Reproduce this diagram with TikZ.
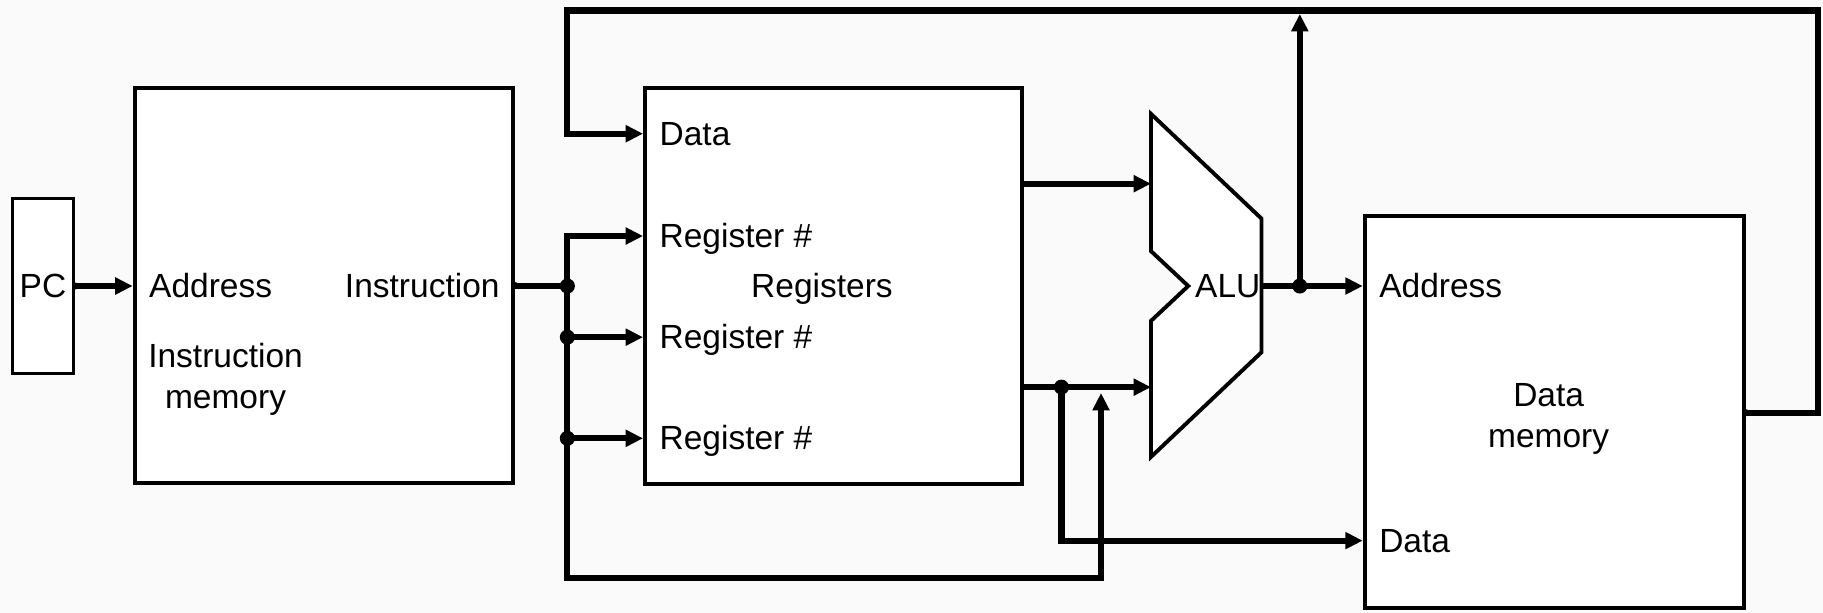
\documentclass[tikz,border=0pt]{standalone}
\usepackage{fontspec}
\setmainfont{Liberation Sans}
\usetikzlibrary{arrows.meta, positioning, calc}
\definecolor{paper}{RGB}{250,250,250}

\begin{document}
\begin{tikzpicture}[
    x=0.02cm, y=-0.02cm,
    box/.style={rectangle, draw, line width=1.9pt, fill=white, font=\fontsize{16.4}{20}\selectfont},
    wire/.style={line width=3pt},
    arrow/.style={wire, -{Triangle[length=0.3cm, width=0.28cm]}},
    port/.style={font=\fontsize{16.4}{20}\selectfont, inner sep=0pt, text height=11.3pt, text depth=0pt, anchor=west},
    caption/.style={font=\fontsize{16.4}{20}\selectfont, inner sep=0pt, align=center}
]
\fill[paper] (0,0) rectangle (1568,527);
\useasboundingbox (0,0) rectangle (1568,527);

% blocks
\node[box, minimum width=1.05cm, minimum height=3.01cm] (pc) at (37,246) {PC};
\node[box, minimum width=6.51cm, minimum height=6.79cm] (imem) at (278.5,245.5) {};
\node[box, minimum width=6.49cm, minimum height=6.81cm] (regs) at (717,246) {};
\node[box, minimum width=6.53cm, minimum height=6.75cm] (dmem) at (1337,354.5) {};
\draw[line width=1.9pt, fill=white] (990,98) -- (1085,188) -- (1085,303) -- (990,393)
    -- (990,276) -- (1022,246) -- (990,216) -- cycle;

% labels
\node[port] (imaddr) at (128,246) {Address};
\node[port, anchor=east] (iminst) at (430,246) {Instruction};
\node[caption] (imname) at (194,326) {Instruction\\memory};
\node[port] (rdata) at (567,115) {Data};
\node[port] (rreg1) at (567,203) {Register \#};
\node[port] (rreg2) at (567,290) {Register \#};
\node[port] (rreg3) at (567,377) {Register \#};
\node[port, anchor=center] (regname) at (707,246) {Registers};
\node[port, anchor=center] (aluname) at (1056,246) {ALU};
\node[port] (dmaddr) at (1186,246) {Address};
\node[caption] (dmname) at (1332,360.5) {Data\\memory};
\node[port] (dmdata) at (1186,465) {Data};

\coordinate (j1) at (488,246);
\coordinate (j2) at (913,333);
\coordinate (j3) at (1118,246);
\coordinate (aluin1) at (990,158);
\coordinate (aluin2) at (990,333);
\coordinate (aluout) at (1085,246);
\coordinate (aluup) at (1118,12);
\coordinate (loop) at (947,497);
\coordinate (looptip) at (947,338);
\coordinate (wb) at (1564,355);
\coordinate (top) at (488,9);

\draw[arrow] (pc.east |- imaddr) -- (imem.west |- imaddr);
\draw[wire] (imem.east |- iminst) -- (j1);
\draw[arrow] (j1 |- rreg3) -- (j1 |- rreg1) -- (regs.west |- rreg1);
\draw[arrow] (j1 |- rreg2) -- (regs.west |- rreg2);
\draw[arrow] (j1 |- rreg3) -- (regs.west |- rreg3);
\draw[arrow] (j1 |- rreg3) |- (loop) -- (looptip);
\draw[arrow] (regs.east |- aluin1) -- (aluin1);
\draw[arrow] (regs.east |- aluin2) -- (aluin2);
\draw[arrow] (j2) |- (dmem.west |- dmdata);
\draw[arrow] (aluout) -- (dmem.west |- dmaddr);
\draw[arrow] (j3) -- (aluup);

% write back
\draw[arrow] (dmem.east |- wb) -- (wb) |- (top) -- (top |- rdata) -- (regs.west |- rdata);

% joints
\foreach \p in {j1, j2, j3} \fill (\p) circle (0.13cm);
\fill (j1 |- rreg2) circle (0.13cm);
\fill (j1 |- rreg3) circle (0.13cm);
\foreach \p in {pc.east, imem.east, dmem.east |- wb} \fill (\p) circle (0.06cm);
\end{tikzpicture}
\end{document}
